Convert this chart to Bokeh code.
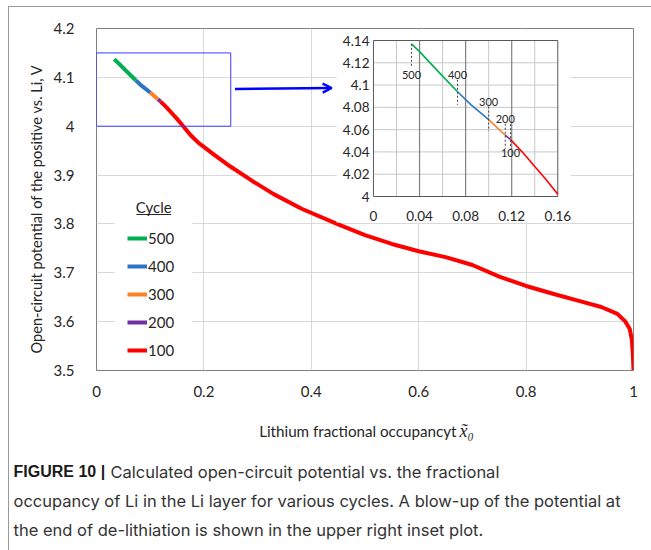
import math
from bokeh.plotting import figure
from bokeh.layouts import column, row
from bokeh.models import (Range1d, Legend, LegendItem, Arrow, OpenHead,
                          FixedTicker, NumeralTickFormatter)
from bokeh.embed import file_html
from bokeh.resources import INLINE
from bokeh.core.properties import value

# ---------------- data ----------------
occupancy = [0.033, 0.040, 0.050, 0.060, 0.073, 0.085, 0.100, 0.1144, 0.119, 0.130, 0.140,
             0.150, 0.160, 0.175, 0.190, 0.203, 0.220, 0.250, 0.290, 0.330, 0.382, 0.450,
             0.500, 0.550, 0.600, 0.650, 0.700, 0.750, 0.800, 0.850, 0.900, 0.940, 0.970,
             0.985, 0.993, 0.997, 0.999, 1.000]
potential = [4.137, 4.130, 4.119, 4.108, 4.094, 4.082, 4.069, 4.055, 4.051, 4.039, 4.027,
             4.015, 4.002, 3.982, 3.966, 3.955, 3.941, 3.917, 3.888, 3.861, 3.831, 3.799,
             3.777, 3.759, 3.744, 3.732, 3.716, 3.692, 3.673, 3.657, 3.642, 3.630, 3.616,
             3.600, 3.585, 3.562, 3.530, 3.500]

cycles = ["500", "400", "300", "200", "100"]
cycle_start = [0.033, 0.073, 0.100, 0.1144, 0.119]
cycle_colors = ["#00b050", "#2e75c6", "#ff7f27", "#7030a0", "#ff0000"]

main_xticks = [0, 0.2, 0.4, 0.6, 0.8, 1.0]
main_yticks = [3.5, 3.6, 3.7, 3.8, 3.9, 4.0, 4.1, 4.2]
inset_xticks = [0, 0.04, 0.08, 0.12, 0.16]
inset_yticks = [4.0, 4.02, 4.04, 4.06, 4.08, 4.10, 4.12, 4.14]
inset_grid_x = [0.02, 0.04, 0.06, 0.08, 0.10, 0.12, 0.14]
inset_major_x = [0.04, 0.08, 0.12]
inset_grid_y = [4.02, 4.04, 4.06, 4.08, 4.10, 4.12]
zoom_box = [0.0, 0.25, 4.0, 4.15]   # x0, x1, y0, y1

x_label = "Lithium fractional occupancyt"
x_symbol = "x\u0303\u2080"
y_label = "Open-circuit potential of the positive vs. Li, V"
caption_bold = "FIGURE 10 |"
caption_lines = ["Calculated open-circuit potential vs. the fractional",
                 "occupancy of Li in the Li layer for various cycles. A blow-up of the potential at",
                 "the end of de-lithiation is shown in the upper right inset plot."]

# ---------------- layout (page pixels) ----------------
W, H = 651, 550
BX, BY = 8, 6                    # card border (left, top), drawn as CSS border
OX, OY = BX + 1, BY + 1          # page origin of the content inside the border
LEFT_W = 50                      # page x where the main figure starts
CAP_Y0 = 410                     # page y where the caption panel starts
FL, FR, FT, FB = 94, 633, 28, 370
XR, YR = (0.0, 1.0), (3.5, 4.2)
IL, IR, IT, IB = 372, 557, 40, 196
IXR, IYR = (0.0, 0.16), (4.0, 4.14)
TXT = "#262626"
BORDER = "#9a9a9a"

def mx(px):
    return XR[0] + (px - FL) / (FR - FL) * (XR[1] - XR[0])

def my(py):
    return YR[1] - (py - FT) / (FB - FT) * (YR[1] - YR[0])

kx = (IR - IL) / (IXR[1] - IXR[0])
ky = (IB - IT) / (IYR[1] - IYR[0])

def ix(px):
    return IXR[0] + (px - IL) / kx

def iy(py):
    return IYR[0] + (IB - py) / ky

common = dict(output_backend="svg", toolbar_location=None, border_fill_color="white",
              background_fill_color="white")

# ---------------- left panel (y-axis title), frame aligned with the main frame -------------
left = figure(width=LEFT_W - OX, height=CAP_Y0 - OY, x_range=Range1d(OX, LEFT_W),
              y_range=Range1d(FB, FT), x_axis_type=None, y_axis_type=None,
              min_border_left=0, min_border_right=0, min_border_top=FT - OY,
              min_border_bottom=CAP_Y0 - FB, outline_line_color=None, **common)
left.text(x=[36], y=[353], text=[y_label], angle=math.pi / 2, text_font=value("Lato"),
          text_font_size=value("14.6px"), text_align="left", text_baseline="middle",
          text_color=TXT)

# ---------------- main figure ----------------
p = figure(width=W - LEFT_W, height=CAP_Y0 - OY, x_range=Range1d(*XR), y_range=Range1d(*YR),
           min_border_left=FL - LEFT_W, min_border_right=W - FR, min_border_top=FT - OY,
           min_border_bottom=CAP_Y0 - FB, outline_line_color="#7f7f7f", **common)

p.extra_x_ranges = {"ix": Range1d(ix(FL), ix(FR))}
p.extra_y_ranges = {"iy": Range1d(iy(FB), iy(FT))}

fmt = NumeralTickFormatter(format="0.[0]")
for ax, ticks in ((p.xaxis, main_xticks), (p.yaxis, main_yticks)):
    ax.ticker = FixedTicker(ticks=ticks)
    ax.formatter = fmt
    ax.axis_line_color = None
    ax.major_tick_line_color = None
    ax.minor_tick_line_color = None
    ax.major_label_text_font = "Lato"
    ax.major_label_text_font_size = "15px"
    ax.major_label_text_color = TXT
p.xaxis.major_label_standoff = 9
p.yaxis.major_label_standoff = 16

p.xgrid.ticker = FixedTicker(ticks=main_xticks)
p.ygrid.ticker = FixedTicker(ticks=main_yticks)
p.grid.grid_line_color = "#d9d9d9"
p.grid.grid_line_width = 1

# ---------------- main curve ----------------
def segment_of(i, xmax=None):
    start = cycle_start[i]
    end = cycle_start[i + 1] if i + 1 < len(cycle_start) else occupancy[-1]
    if xmax is not None:
        end = min(end, xmax)
    keep = [k for k, x in enumerate(occupancy) if start - 1e-9 <= x <= end + 1e-9]
    return [occupancy[k] for k in keep], [potential[k] for k in keep]

main_renderers = {}
for i in range(len(cycles) - 1, -1, -1):
    xs, ys = segment_of(i)
    main_renderers[i] = p.line(xs, ys, line_width=4, line_color=cycle_colors[i],
                               line_join="round")

# zoom box and arrow
p.quad(left=zoom_box[0], right=zoom_box[1], bottom=zoom_box[2], top=zoom_box[3],
       fill_color=None, line_color="#3a3aff", line_width=1)
p.add_layout(Arrow(end=OpenHead(size=9, line_color="#0000ff", line_width=2.5),
                   x_start=mx(233), y_start=my(88.5), x_end=mx(330), y_end=my(87.5),
                   line_color="#0000ff", line_width=2.5))

# ---------------- legend ----------------
p.quad(left=mx(112), right=mx(190), bottom=my(362), top=my(190),
       fill_color="white", line_color=None)
p.text(x=[mx(151.5)], y=[my(206)], text=["Cycle"], text_font=value("Lato"),
       text_font_size=value("15px"), text_align="center", text_baseline="middle",
       text_color=TXT)
p.segment(x0=[mx(134)], y0=[my(214)], x1=[mx(169)], y1=[my(214)],
          line_color=TXT, line_width=1)
pad = 4
legend = Legend(items=[LegendItem(label=c, renderers=[main_renderers[i]])
                       for i, c in enumerate(cycles)],
                location=(129 - pad - FL, FB - (356 + pad)), padding=pad, margin=0,
                spacing=8, glyph_width=20, glyph_height=20, label_height=20,
                label_standoff=1, label_text_font="Lato", label_text_font_size="15px",
                label_text_color=TXT, background_fill_alpha=0, border_line_color=None)
p.add_layout(legend)

# ---------------- inset ----------------
I = dict(x_range_name="ix", y_range_name="iy")
p.quad(left=ix(335), right=ix(570), bottom=iy(222), top=iy(30),
       fill_color="white", line_color=None, **I)
minor_x = [g for g in inset_grid_x if g not in inset_major_x]
p.segment(x0=minor_x, y0=[IYR[0]] * len(minor_x), x1=minor_x, y1=[IYR[1]] * len(minor_x),
          line_color="#c8c8c8", line_width=1, **I)
p.segment(x0=[IXR[0]] * len(inset_grid_y), y0=inset_grid_y,
          x1=[IXR[1]] * len(inset_grid_y), y1=inset_grid_y,
          line_color="#c8c8c8", line_width=1, **I)
p.segment(x0=inset_major_x, y0=[IYR[0]] * len(inset_major_x), x1=inset_major_x,
          y1=[IYR[1]] * len(inset_major_x), line_color="#808080", line_width=1.2, **I)
p.quad(left=IXR[0], right=IXR[1], bottom=IYR[0], top=IYR[1],
       fill_color=None, line_color="#595959", line_width=1, **I)

for i in range(len(cycles) - 1, -1, -1):
    xs, ys = segment_of(i, xmax=IXR[1])
    p.line(xs, ys, line_width=1.6, line_color=cycle_colors[i], **I)

# dashed cycle markers: (dash top px, dash bottom px, label offset px) relative to curve
marker_layout = {"500": (0, -22, -31), "400": (12, -13, 17), "300": (13, -11.5, 18),
                 "200": (11.5, -13.5, 16.5), "100": (15.5, -9, -13.5)}
for i, c in enumerate(cycles):
    xc = cycle_start[i]
    vc = potential[occupancy.index(xc)]
    top_px, bot_px, lab_px = marker_layout[c]
    p.segment(x0=[xc], y0=[vc + top_px / ky], x1=[xc], y1=[vc + bot_px / ky],
              line_color="#404040", line_width=1, line_dash="2 2", **I)
    p.text(x=[xc], y=[vc + lab_px / ky], text=[c], text_font=value("Lato"),
           text_font_size=value("11px"), text_align="center", text_baseline="middle",
           text_color=TXT, **I)

p.text(x=[ix(IL - 4)] * len(inset_yticks), y=inset_yticks,
       text=[f"{t:g}" for t in inset_yticks], text_font=value("Lato"),
       text_font_size=value("13.5px"), text_align="right", text_baseline="middle",
       text_color=TXT, **I)
p.text(x=inset_xticks, y=[iy(IB + 19)] * len(inset_xticks),
       text=[f"{t:g}" for t in inset_xticks], text_font=value("Lato"),
       text_font_size=value("13.5px"), text_align="center", text_baseline="middle",
       text_color=TXT, **I)

# ---------------- caption panel (x-axis label + caption) ----------------
cap = figure(width=W - OX, height=H - CAP_Y0, x_range=Range1d(OX, W),
             y_range=Range1d(H, CAP_Y0), x_axis_type=None, y_axis_type=None, min_border=0,
             outline_line_color=None, **common)
cap.text(x=[456], y=[430], text=[x_label], text_font=value("Lato"),
         text_font_size=value("15.2px"), text_align="right", text_baseline="alphabetic",
         text_color=TXT)
cap.text(x=[459], y=[430], text=[x_symbol], text_font=value("Liberation Serif"),
         text_font_style="italic", text_font_size=value("18px"), text_align="left",
         text_baseline="alphabetic", text_color=TXT)
cap.text(x=[13], y=[471], text=[caption_bold], text_font=value("Liberation Sans"),
         text_font_style="bold", text_font_size=value("16px"), text_baseline="alphabetic",
         text_color="#1a1a1a")
cap.text(x=[110, 13, 13], y=[471, 500, 529], text=caption_lines, text_font=value("Inter"),
         text_font_size=value("16.5px"), text_baseline="alphabetic", text_color="#333333")

layout = column(row(left, p, spacing=0), cap, spacing=0,
                styles={"margin-top": f"{BY}px", "margin-left": f"{BX}px",
                        "border-top": f"1px solid {BORDER}",
                        "border-left": f"1px solid {BORDER}"})
open("out.html", "w").write(file_html(layout, INLINE))
